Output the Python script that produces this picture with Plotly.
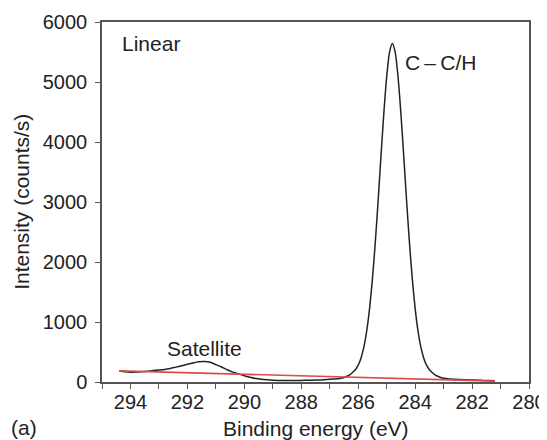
import plotly.graph_objects as go

energy = [294.4, 294.2, 294.0, 293.8, 293.6, 293.4, 293.2, 293.0, 292.8, 292.6,
          292.4, 292.2, 292.0, 291.8, 291.6, 291.4, 291.2, 291.0, 290.8, 290.6,
          290.4, 290.2, 290.0, 289.8, 289.6, 289.4, 289.2, 289.0, 288.8, 288.6,
          288.4, 288.2, 288.0, 287.8, 287.6, 287.4, 287.2, 287.0, 286.8, 286.6,
          286.5, 286.4, 286.3, 286.2, 286.1, 286.0, 285.9, 285.8, 285.7, 285.6,
          285.5, 285.4, 285.3, 285.2, 285.1, 285.0, 284.9, 284.8, 284.7, 284.6,
          284.5, 284.4, 284.3, 284.2, 284.1, 284.0, 283.9, 283.8, 283.7, 283.6,
          283.5, 283.4, 283.3, 283.2, 283.1, 283.0, 282.8, 282.6, 282.4, 282.2,
          282.0, 281.8, 281.6, 281.4, 281.2]
intensity = [183, 172, 163, 165, 172, 180, 190, 198, 208, 225,
             248, 270, 295, 318, 336, 342, 330, 290, 250, 205,
             165, 135, 105, 80, 58, 45, 36, 29, 26, 25,
             25, 26, 27, 28, 30, 33, 38, 45, 52, 62,
             75, 95, 120, 159, 205, 280, 400, 584, 854, 1228,
             1719, 2324, 3020, 3761, 4477, 5083, 5494, 5640, 5494, 5083,
             4477, 3761, 3020, 2324, 1719, 1228, 854, 584, 400, 280,
             205, 159, 120, 95, 75, 62, 50, 45, 40, 36,
             33, 30, 27, 25, 22]

# Linear background endpoints
bg_energy = [294.4, 281.2]
bg_intensity = [185, 15]

x_ticks = [294, 292, 290, 288, 286, 284, 282, 280]
y_ticks = [0, 1000, 2000, 3000, 4000, 5000, 6000]

FONT = "Arial, Liberation Sans, sans-serif"
TXT = "#222222"
AX = "#555555"

fig = go.Figure()
fig.add_trace(go.Scatter(x=energy, y=intensity, mode="lines",
                         line=dict(color="#222222", width=1.5, shape="spline", smoothing=0.6),
                         showlegend=False, hoverinfo="skip"))
fig.add_trace(go.Scatter(x=bg_energy, y=bg_intensity, mode="lines",
                         line=dict(color="#de4b48", width=1.6),
                         showlegend=False, hoverinfo="skip"))

# the page body adds an 8 px offset, so the figure is sized to fit the window
fig.update_layout(
    width=539, height=432,
    margin=dict(l=94, r=18, t=14, b=58),
    paper_bgcolor="white", plot_bgcolor="white",
    font=dict(family=FONT, size=21, color=TXT),
    xaxis=dict(range=[295, 280], tickvals=x_ticks, ticks="outside", ticklen=5,
               tickwidth=1.3, tickcolor=AX, showline=True, linecolor=AX, linewidth=1.5,
               mirror=True, showgrid=False, zeroline=False, automargin=False,
               ticklabelstandoff=-4,
               minor=dict(dtick=1, ticks="outside", ticklen=5, tickwidth=1.3, tickcolor=AX, showgrid=False),
               tickfont=dict(size=20, color=TXT)),
    yaxis=dict(range=[0, 6000], tickvals=y_ticks, ticks="outside", ticklen=5,
               tickwidth=1.3, tickcolor=AX, showline=True, linecolor=AX, linewidth=1.5,
               mirror=True, showgrid=False, zeroline=False, automargin=False,
               ticklabelstandoff=4,
               tickfont=dict(size=20, color=TXT)),
)

# Axis titles
fig.add_annotation(x=0.5, y=-0.128, xref="paper", yref="paper", text="Binding energy (eV)",
                   showarrow=False, xanchor="center", yanchor="middle", font=dict(size=21, color=TXT))
fig.add_annotation(x=-0.19, y=0.5, xref="paper", yref="paper", text="Intensity (counts/s)",
                   textangle=-90, showarrow=False, xanchor="center", yanchor="middle",
                   font=dict(size=21, color=TXT))

fig.add_annotation(x=0.042, y=0.939, xref="paper", yref="paper", text="Linear",
                   showarrow=False, xanchor="left", yanchor="middle", font=dict(size=21, color=TXT))
fig.add_annotation(x=284.42, y=5330, xref="x", yref="y", text="C\u2009\u2013\u2009C/H",
                   showarrow=False, xanchor="left", yanchor="middle", font=dict(size=21, color=TXT))
fig.add_annotation(x=291.39, y=565, xref="x", yref="y", text="Satellite",
                   showarrow=False, xanchor="center", yanchor="middle", font=dict(size=21, color=TXT))
fig.add_annotation(x=-0.218, y=-0.125, xref="paper", yref="paper", text="(a)",
                   showarrow=False, xanchor="left", yanchor="middle", font=dict(size=21, color=TXT))

fig.write_html("out.html")
